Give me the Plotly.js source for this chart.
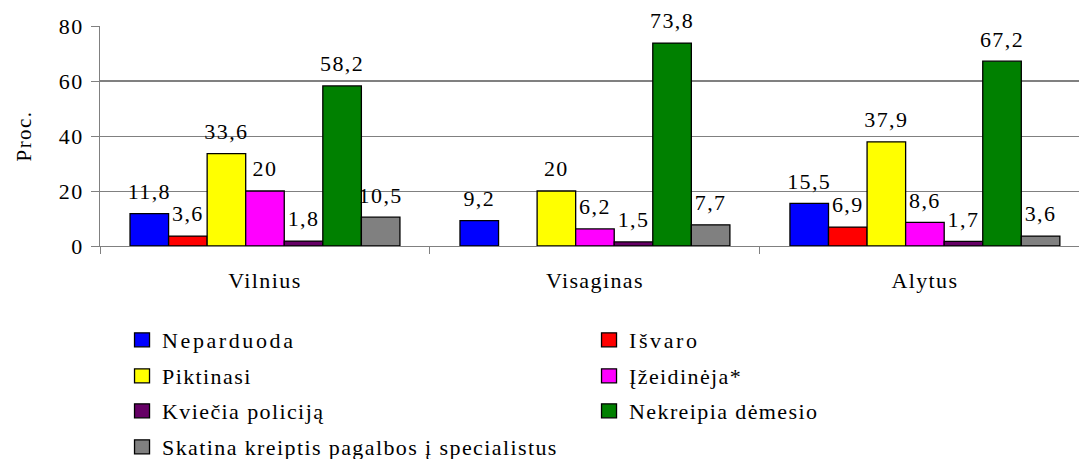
<!DOCTYPE html>
<html>
<head>
<meta charset="utf-8">
<script src="https://cdn.plot.ly/plotly-3.0.1.min.js"></script>
<style>
html, body { margin: 0; padding: 0; background: #fff; }
#chart { width: 1079px; height: 459px; }
.main-svg text { letter-spacing: 1.4px; }
.main-svg text.legendtext { letter-spacing: 2.6px; }
</style>
</head>
<body>
<div id="chart"></div>
<script>
const categories = ["Vilnius", "Visaginas", "Alytus"];
const seriesNames = ["Neparduoda", "Išvaro", "Piktinasi", "Įžeidinėja*", "Kviečia policiją", "Nekreipia dėmesio", "Skatina kreiptis pagalbos į specialistus"];
const neparduoda = [11.8, 9.2, 15.5];
const isvaro = [3.6, null, 6.9];
const piktinasi = [33.6, 20, 37.9];
const izeidineja = [20, 6.2, 8.6];
const kviecia = [1.8, 1.5, 1.7];
const nekreipia = [58.2, 73.8, 67.2];
const skatina = [10.5, 7.7, 3.6];
const seriesValues = [neparduoda, isvaro, piktinasi, izeidineja, kviecia, nekreipia, skatina];
const colors = ["#0000FF", "#FF0000", "#FFFF00", "#FF00FF", "#660066", "#008000", "#808080"];
const legendRows = ["legend", "legend", "legend2", "legend2", "legend3", "legend3", "legend4"];
const yTicks = [0, 20, 40, 60, 80];

const FONT = "Liberation Serif";
const fmt = v => (v === null ? "" : String(v).replace(".", ","));

const traces = [];
seriesValues.forEach((vals, i) => {
  traces.push({
    type: "bar",
    name: seriesNames[i],
    x: categories,
    y: vals,
    offsetgroup: "g" + i,
    alignmentgroup: "a",
    marker: { color: colors[i], line: { color: "#000", width: 1.3 } },
    legend: legendRows[i],
    hoverinfo: "skip"
  });
});
seriesValues.forEach((vals, i) => {
  traces.push({
    type: "scatter",
    mode: "markers+text",
    x: categories,
    y: vals,
    offsetgroup: "g" + i,
    alignmentgroup: "a",
    text: vals.map(fmt),
    textposition: "top center",
    textfont: { family: FONT, size: 22, color: "#000" },
    marker: { size: 13, opacity: 0, color: "#fff" },
    showlegend: false,
    cliponaxis: false,
    hoverinfo: "skip"
  });
});

const legendBase = {
  orientation: "h",
  entrywidth: 422,
  entrywidthmode: "pixels",
  xanchor: "left",
  yanchor: "middle",
  x: 0.0225,
  font: { family: FONT, size: 22, color: "#000" },
  bgcolor: "rgba(0,0,0,0)",
  traceorder: "normal"
};
const rowY = [340, 376, 411, 447].map(p => (246 - p) / 220);

const layout = {
  width: 1079,
  height: 459,
  margin: { l: 100, r: 0, t: 26, b: 213, pad: 0, autoexpand: false },
  paper_bgcolor: "#fff",
  plot_bgcolor: "#fff",
  barmode: "group",
  bargap: 0.182,
  bargroupgap: 0,
  scattermode: "group",
  scattergap: 0.182,
  font: { family: FONT, color: "#000" },
  xaxis: {
    type: "category",
    range: [-0.5, 2.467],
    automargin: false,
    showgrid: false,
    showline: true,
    linecolor: "#808080",
    linewidth: 1,
    ticks: "outside",
    tickson: "boundaries",
    ticklen: 7,
    tickcolor: "#808080",
    tickfont: { family: FONT, size: 22, color: "#000" },
    ticklabelstandoff: 15,
    fixedrange: true
  },
  yaxis: {
    range: [0, 80],
    automargin: false,
    tickvals: yTicks,
    showgrid: true,
    gridcolor: "#808080",
    gridwidth: 1,
    zeroline: false,
    showline: true,
    linecolor: "#808080",
    ticks: "outside",
    ticklen: 8,
    tickcolor: "#808080",
    tickfont: { family: FONT, size: 22, color: "#000" },
    ticklabelstandoff: 3,
    title: { text: "Proc.", font: { family: FONT, size: 21, color: "#000" }, standoff: 24 },
    fixedrange: true
  },
  shapes: [{
    type: "line", xref: "paper", x0: 0, x1: 1, yref: "y", y0: 60, y1: 60,
    line: { color: "#000", width: 1 }, layer: "below"
  }],
  legend: Object.assign({}, legendBase, { y: rowY[0] }),
  legend2: Object.assign({}, legendBase, { y: rowY[1] }),
  legend3: Object.assign({}, legendBase, { y: rowY[2] }),
  legend4: Object.assign({}, legendBase, { y: rowY[3] }),
  showlegend: true
};

function bigSquares() {
  document.querySelectorAll("#chart .legendpoints path").forEach(p => {
    p.setAttribute("d", "M7.5,7H-7.5V-7H7.5Z");
  });
}
Plotly.newPlot("chart", traces, layout, { displayModeBar: false, staticPlot: true }).then(() => {
  bigSquares();
  setTimeout(bigSquares, 50);
  setTimeout(bigSquares, 300);
});
</script>
</body>
</html>
